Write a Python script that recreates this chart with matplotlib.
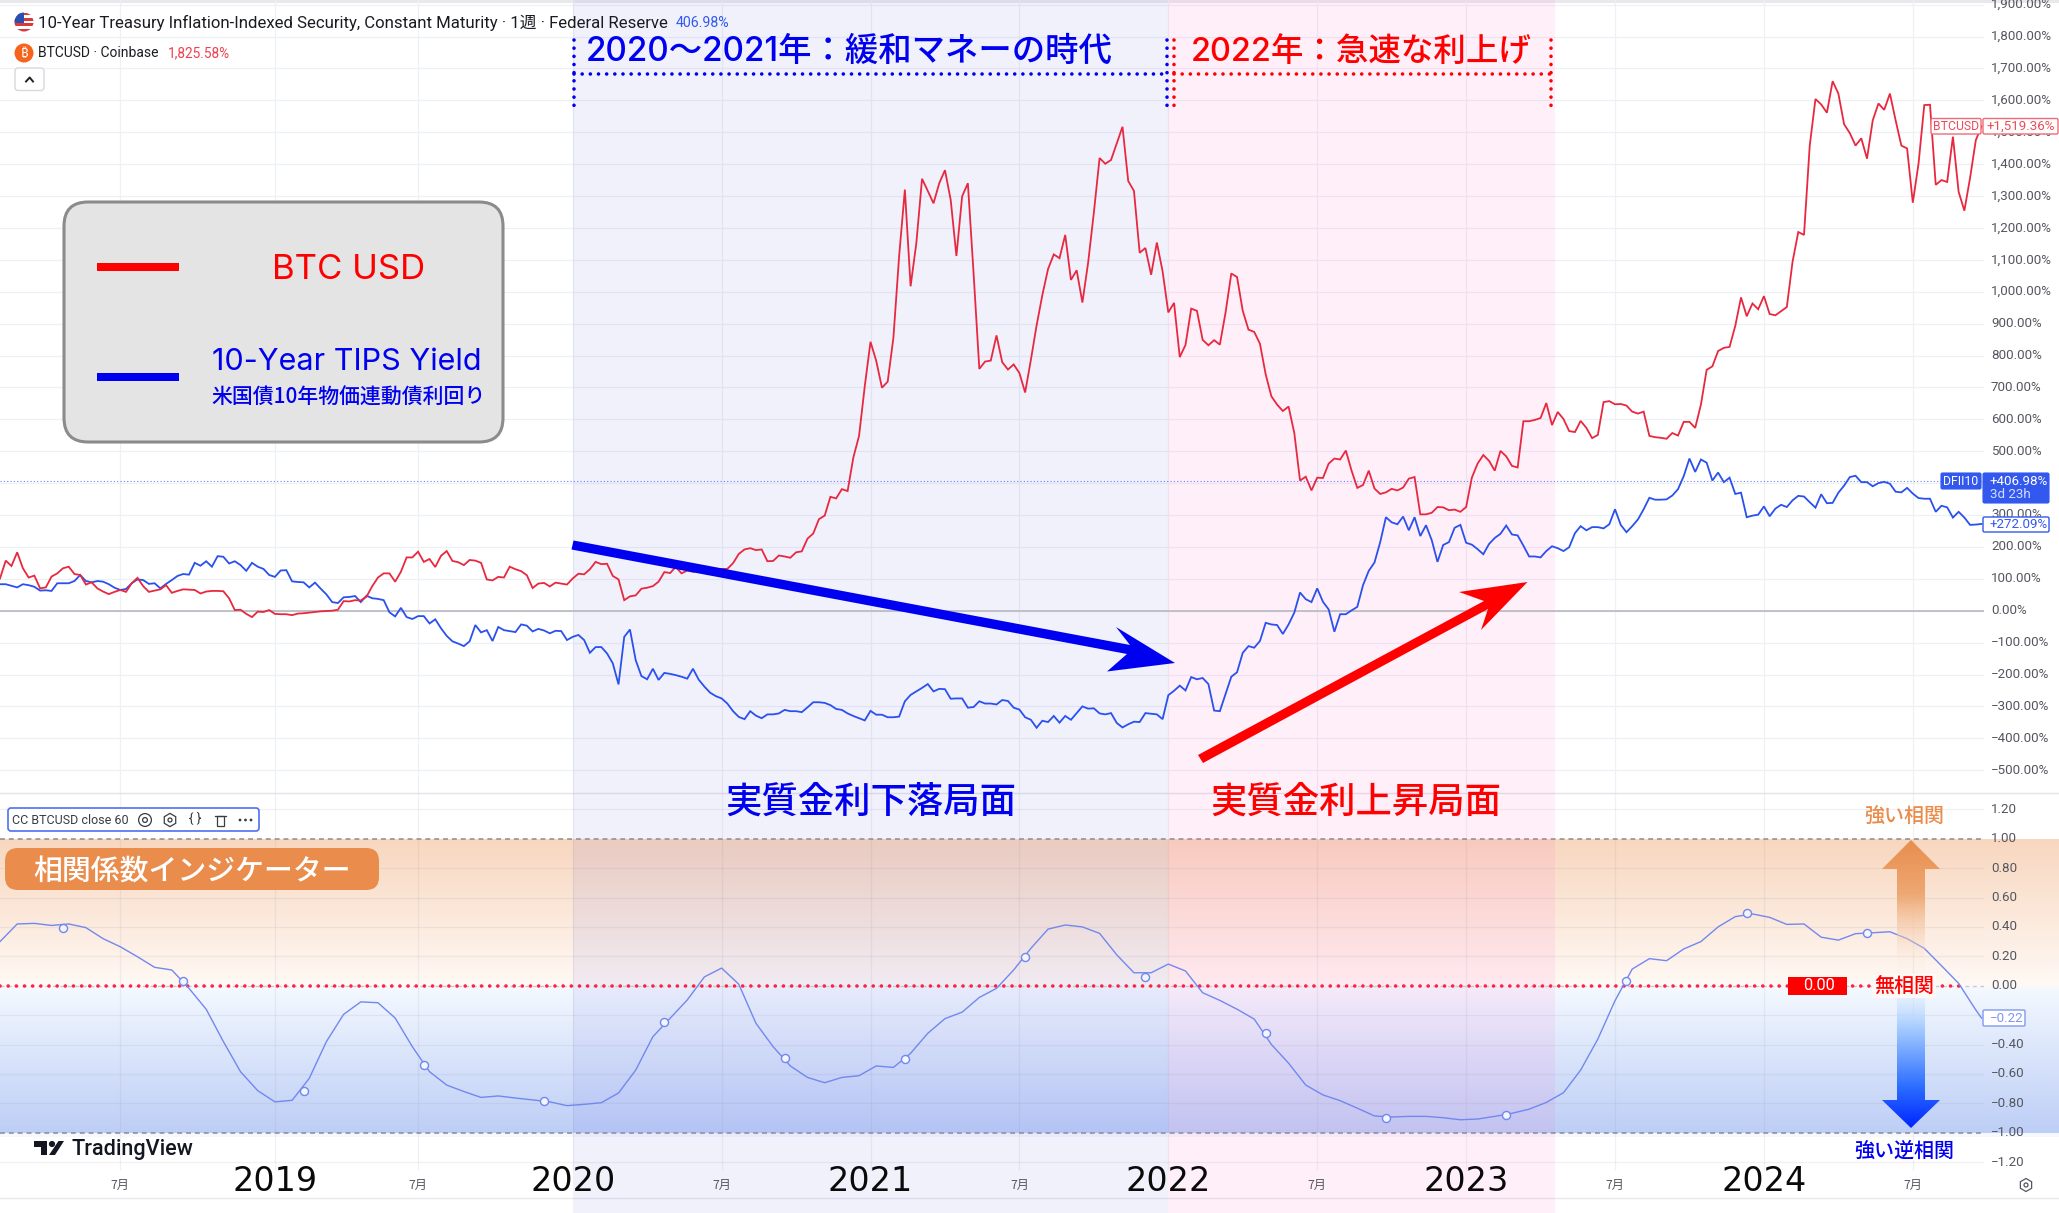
import numpy as np
import pandas as pd
import matplotlib
matplotlib.use("Agg")
import matplotlib.pyplot as plt
from matplotlib.patches import Circle, FancyBboxPatch, Polygon, Rectangle, RegularPolygon

plt.rcParams["ytick.alignment"] = "center"

# Weekly performance since the start of the window, percent
btc_pct = [
    101, 157, 140, 183, 133, 104, 110, 70, 73, 107,
    117, 133, 138, 115, 112, 82, 89, 70, 60, 52,
    59, 65, 59, 86, 103, 77, 59, 63, 67, 80,
    56, 62, 67, 66, 65, 54, 60, 62, 62, 61,
    39, 2, 3, -10, -20, -3, -4, 2, -10, -11,
    -11, -14, -9, -8, -6, -4, -2, -1, 0, 3,
    30, 29, 33, 32, 44, 77, 104, 117, 117, 91,
    122, 167, 167, 185, 153, 162, 137, 172, 187, 156,
    152, 143, 159, 157, 150, 98, 95, 106, 104, 138,
    130, 124, 111, 71, 85, 87, 76, 88, 85, 82,
    101, 116, 114, 130, 153, 146, 147, 109, 98, 33,
    45, 48, 69, 72, 77, 91, 121, 118, 137, 117,
    126, 122, 125, 128, 130, 131, 131, 131, 149, 178,
    192, 196, 190, 192, 155, 156, 173, 170, 166, 183,
    186, 226, 242, 287, 298, 357, 352, 381, 375, 480,
    548, 704, 843, 783, 699, 718, 856, 1112, 1320, 1017,
    1152, 1354, 1316, 1277, 1340, 1381, 1288, 1112, 1299, 1340,
    1057, 758, 781, 784, 863, 779, 756, 772, 745, 684,
    786, 894, 989, 1071, 1117, 1105, 1178, 1037, 1067, 966,
    1091, 1248, 1419, 1401, 1413, 1465, 1517, 1347, 1316, 1122,
    1137, 1053, 1154, 1064, 935, 965, 795, 833, 947, 940,
    849, 832, 848, 834, 935, 1057, 1046, 940, 881, 874,
    837, 741, 672, 646, 626, 640, 557, 408, 420, 377,
    417, 416, 461, 477, 474, 502, 439, 385, 394, 439,
    383, 366, 371, 382, 377, 386, 414, 419, 302, 302,
    307, 325, 324, 315, 317, 310, 325, 417, 461, 488,
    470, 439, 501, 484, 454, 449, 594, 594, 598, 604,
    651, 582, 623, 601, 563, 560, 595, 573, 541, 551,
    654, 657, 647, 648, 643, 624, 618, 624, 548, 544,
    542, 539, 557, 549, 592, 592, 573, 646, 755, 766,
    814, 824, 827, 893, 982, 923, 963, 945, 986, 930,
    926, 939, 952, 1094, 1187, 1178, 1458, 1604, 1587, 1561,
    1660, 1621, 1525, 1497, 1458, 1481, 1417, 1537, 1590, 1570,
    1621, 1537, 1458, 1449, 1279, 1402, 1585, 1586, 1335, 1350,
    1344, 1486, 1313, 1254, 1357, 1475, 1519,
]
tips_pct = [
    83, 83, 78, 73, 83, 80, 75, 63, 64, 62,
    86, 86, 86, 93, 112, 93, 89, 93, 91, 83,
    72, 65, 68, 86, 98, 96, 84, 86, 70, 84,
    96, 109, 115, 113, 150, 141, 155, 138, 171, 169,
    148, 155, 143, 125, 150, 138, 131, 112, 106, 126,
    127, 92, 90, 89, 73, 88, 69, 51, 27, 24,
    42, 43, 46, 27, 47, 39, 37, 33, -5, -18,
    9, -20, -26, -17, -17, -40, -27, -55, -79, -96,
    -103, -111, -96, -45, -68, -61, -95, -51, -61, -64,
    -67, -43, -47, -65, -57, -62, -71, -63, -64, -92,
    -82, -76, -92, -132, -114, -114, -134, -165, -231, -82,
    -59, -155, -205, -215, -182, -217, -195, -198, -202, -207,
    -213, -182, -216, -238, -257, -268, -275, -291, -315, -333,
    -340, -315, -329, -337, -325, -325, -322, -311, -315, -315,
    -318, -303, -287, -287, -289, -296, -308, -311, -322, -330,
    -337, -344, -314, -326, -326, -334, -334, -332, -284, -264,
    -253, -242, -230, -253, -245, -246, -276, -275, -275, -304,
    -302, -284, -291, -291, -294, -280, -283, -304, -310, -334,
    -342, -367, -345, -349, -330, -351, -330, -342, -321, -300,
    -307, -306, -322, -325, -321, -352, -366, -356, -348, -349,
    -321, -323, -325, -340, -265, -251, -235, -250, -208, -215,
    -211, -230, -313, -315, -261, -207, -193, -132, -111, -116,
    -95, -38, -43, -45, -73, -43, -6, 57, 36, 27,
    70, 28, 4, -66, -11, -11, 1, 12, 80, 125,
    151, 215, 293, 277, 271, 295, 252, 293, 234, 268,
    221, 153, 206, 215, 260, 269, 213, 207, 193, 177,
    209, 228, 241, 267, 239, 236, 204, 170, 170, 167,
    187, 202, 196, 187, 199, 243, 265, 252, 262, 262,
    258, 271, 318, 269, 246, 265, 286, 318, 354, 348,
    348, 349, 361, 381, 422, 477, 435, 474, 464, 408,
    433, 403, 417, 366, 370, 293, 298, 301, 327, 296,
    320, 332, 325, 346, 360, 358, 340, 323, 365, 337,
    338, 370, 392, 419, 423, 403, 403, 390, 400, 404,
    398, 373, 371, 385, 367, 353, 351, 351, 310, 329,
    324, 292, 310, 292, 269, 270, 272,
]
# 60-period correlation, read every third week plus the final bar
correlation = [
    0.30, 0.42, 0.424, 0.41, 0.42, 0.395, 0.32, 0.265, 0.197, 0.125,
    0.107, -0.018, -0.16, -0.38, -0.585, -0.714, -0.79, -0.78, -0.63, -0.38,
    -0.195, -0.11, -0.116, -0.22, -0.415, -0.585, -0.676, -0.72, -0.76, -0.75,
    -0.764, -0.777, -0.79, -0.816, -0.807, -0.796, -0.73, -0.574, -0.347, -0.222,
    -0.097, 0.06, 0.12, 0.01, -0.256, -0.415, -0.546, -0.624, -0.66, -0.624,
    -0.612, -0.546, -0.556, -0.46, -0.324, -0.224, -0.18, -0.08, -0.018, 0.107,
    0.254, 0.385, 0.413, 0.40, 0.356, 0.21, 0.088, 0.088, 0.147, 0.10,
    -0.048, -0.10, -0.16, -0.227, -0.40, -0.527, -0.676, -0.743, -0.782, -0.833,
    -0.886, -0.893, -0.889, -0.889, -0.898, -0.912, -0.907, -0.889, -0.868, -0.84,
    -0.794, -0.728, -0.574, -0.363, -0.102, 0.113, 0.184, 0.17, 0.25, 0.30,
    0.40, 0.47, 0.488, 0.465, 0.417, 0.42, 0.33, 0.31, 0.354, 0.36,
    0.367, 0.32, 0.254, 0.136, 0.016, -0.165, -0.22,
]
# Open-circle markers on the correlation line, one every 21 weeks
marker_values = [0.395, 0.03, -0.714, -0.54, -0.785, -0.25, -0.494, -0.497,
                 0.195, 0.057, -0.324, -0.90, -0.877, 0.03, 0.497, 0.358]

price_ticks = list(range(-500, 2000, 100))
corr_ticks = [-1.2, -1.0, -0.8, -0.6, -0.4, -0.2, 0.0, 0.2, 0.4, 0.6, 0.8, 1.0, 1.2]
year_labels = ["2019", "2020", "2021", "2022", "2023", "2024"]
year_bars = [48, 100, 152, 204, 256, 308]
july_bars = [21, 73, 126, 178, 230, 282, 334]

JP = ["Noto Sans CJK JP", "DejaVu Sans"]
HEAD = ["Inter", "Noto Sans CJK JP", "DejaVu Sans"]
UI = ["Roboto", "Noto Sans CJK JP", "DejaVu Sans"]
BLUE_PURE, RED_PURE = "#0000f0", "#ff0000"
BTC_RED, TIPS_BLUE, CORR_BLUE = "#e8283f", "#2a50ee", "#7288ee"
ORANGE = "#ea8c4c"
GRID = "#eef0f5"

W, H = 2059, 1213
SPLIT = 793
AXIS_X = 1984

dates = pd.date_range("2018-01-29", periods=len(btc_pct), freq="7D")
x_left, x_right = dates[0], dates[0] + pd.Timedelta(days=2425)

fig = plt.figure(figsize=(W / 100, H / 100), dpi=100, facecolor="white")


def pane(top, bottom, right=AXIS_X):
    """Axes placed from pixel rows, measured from the top of the figure."""
    return fig.add_axes([0, (H - bottom) / H, right / W, (bottom - top) / H])


def hex_rgb(code):
    return np.array(matplotlib.colors.to_rgb(code))


def vertical_gradient(stops):
    """RGBA column from (position, colour, alpha) stops, position 0 at the top."""
    t = np.linspace(0, 1, 256)
    pos = [s[0] for s in stops]
    rgb = np.array([hex_rgb(s[1]) for s in stops])
    alpha = [s[2] for s in stops]
    col = np.stack([np.interp(t, pos, rgb[:, c]) for c in range(3)] + [np.interp(t, pos, alpha)], axis=1)
    return col[:, None, :]


# Background layer in pixel space holding the correlation colour bands
back = fig.add_axes([0, 0, 1, 1], zorder=0)
back.set_xlim(0, W)
back.set_ylim(H, 0)
back.axis("off")
back.imshow(vertical_gradient([(0, "#f8d7bf", 1), (1, "#fff9f5", 1)]),
            extent=(0, W, 987, 839), aspect="auto", interpolation="bilinear")
back.imshow(vertical_gradient([(0, "#f4f9ff", 1), (1, "#bdcef6", 1)]),
            extent=(0, W, 1133, 987), aspect="auto", interpolation="bilinear")
back.add_patch(Rectangle((0, 1133), W, 4, color="#f5f8ff", lw=0))
back.add_patch(Rectangle((0, 0), W, 2.5, color="#e9e9ec", lw=0))
back.plot([0, W], [792.5, 792.5], color="#e3e4ea", lw=1)
back.plot([0, W], [1198, 1198], color="#e8e8ec", lw=1)
back.set_xlim(0, W)
back.set_ylim(H, 0)

# Price pane
ax = pane(0, SPLIT)
ax.set_zorder(1)
ax.patch.set_visible(False)
ax.set_xlim(x_left, x_right)
ax.set_ylim((610.7 - SPLIT) / 0.319, 610.7 / 0.319)
ax.yaxis.tick_right()
ax.set_yticks(price_ticks)
ax.set_yticklabels([f"{v:,.2f}%".replace("-", "\u2212") for v in price_ticks],
                   family=UI, fontsize=9.6, color="#555760")
ax.tick_params(axis="y", length=0, pad=5)
ax.set_xticks([])
for side in ax.spines.values():
    side.set_visible(False)
for v in price_ticks:
    ax.axhline(v, color=GRID, lw=0.9, zorder=1)
for i in sorted(year_bars + july_bars):
    ax.axvline(dates[i], color=GRID, lw=0.9, zorder=1)
ax.axvspan(dates[100], dates[204], color=(60 / 255, 60 / 255, 220 / 255), alpha=0.07, lw=0, zorder=2)
ax.axvspan(dates[204], pd.Timestamp("2023-04-14"), color=(1, 60 / 255, 190 / 255), alpha=0.08, lw=0, zorder=2)
ax.axhline(0, color="#bcbcc4", lw=1.3, zorder=3)
ax.axhline(406.98, color=TIPS_BLUE, lw=0.8, ls=(0, (1, 2)), alpha=0.7, zorder=3)
ax.plot(dates, tips_pct, color=TIPS_BLUE, lw=1.3, zorder=4, solid_joinstyle="miter")
ax.plot(dates, btc_pct, color=BTC_RED, lw=1.3, zorder=5, solid_joinstyle="miter")

# Correlation pane
cx = pane(SPLIT, H)
cx.set_zorder(1)
cx.patch.set_visible(False)
cx.set_xlim(x_left, x_right)
cx.set_ylim((985.7 - H) / 147, (985.7 - SPLIT) / 147)
cx.yaxis.tick_right()
cx.set_yticks(corr_ticks)
cx.set_yticklabels([f"{v:.2f}".replace("-", "\u2212") for v in corr_ticks],
                   family=UI, fontsize=9.6, color="#555760")
cx.tick_params(axis="y", length=0, pad=5)
cx.set_xticks([])
for side in cx.spines.values():
    side.set_visible(False)
for v in corr_ticks:
    if abs(v) not in (0.0, 1.0):
        cx.axhline(v, color="#7a7f90", alpha=0.10, lw=0.9, zorder=1)
grid_bottom = (985.7 - 1170) / 147
for i in sorted(year_bars + july_bars):
    cx.vlines(dates[i], grid_bottom, cx.get_ylim()[1], color="#7a7f90", alpha=0.10, lw=0.9, zorder=1)
cx.axvspan(dates[100], dates[204], color=(60 / 255, 60 / 255, 220 / 255), alpha=0.07, lw=0, zorder=2)
cx.axvspan(dates[204], pd.Timestamp("2023-04-14"), color=(1, 60 / 255, 190 / 255), alpha=0.08, lw=0, zorder=2)
for level in (1.0, -1.0):
    cx.axhline(level, color="#8b8b90", lw=1.1, ls=(0, (3.2, 2.6)), zorder=3)
cx.axhline(0, color="#c8c8cc", lw=0.9, ls=(0, (3, 3)), zorder=3)
cx.plot([dates[0], dates[342]], [0, 0], color="#ff2046", lw=2.6, ls=(0, (0.01, 2.25)),
        dash_capstyle="round", zorder=3)
corr_dates = dates[list(range(0, len(dates) - 1, 3)) + [len(dates) - 1]]
cx.plot(corr_dates, correlation, color=CORR_BLUE, lw=1.0, zorder=4)
cx.plot(dates[[11 + 21 * n for n in range(len(marker_values))]], marker_values, ls="none",
        marker="o", ms=5.8, mfc="#f3f5ff", mec=CORR_BLUE, mew=1.0, zorder=5)
for i, label_text in zip(year_bars, year_labels):
    cx.text(dates[i], (985.7 - 1181.5) / 147, label_text, family=["DejaVu Sans"], fontsize=24, ha="center",
            va="center", color="#0a0a0a", zorder=6)
for i in july_bars:
    cx.text(dates[i], (985.7 - 1185.5) / 147, "7月", family=JP, fontsize=8.8, ha="center",
            va="center", color="#555760", zorder=6)

# Annotation layer in pixel space
top = fig.add_axes([0, 0, 1, 1], zorder=5)
top.patch.set_visible(False)
top.axis("off")
top.set_xlim(0, W)
top.set_ylim(H, 0)


def label(x, y, text, size, color, family=JP, ha="center", weight="normal", **kw):
    return top.text(x, y, text, fontsize=size, color=color, family=family, ha=ha, va="center",
                    fontweight=weight, **kw)


def dotted(xs, ys, color):
    top.plot(xs, ys, color=color, lw=2.6, ls=(0, (0.01, 2.25)), dash_capstyle="round")


def box(x0, y0, x1, y1, face, edge, lw=1.0, radius=1.5, z=7):
    top.add_patch(FancyBboxPatch((x0 + radius, y0 + radius), x1 - x0 - 2 * radius, y1 - y0 - 2 * radius,
                                 boxstyle=f"round,pad={radius},rounding_size={radius}",
                                 fc=face, ec=edge, lw=lw, zorder=z))


# Series titles
flag = Circle((24, 22), 9.5, transform=top.transData)
for n, colour in enumerate(["#d83a3a", "white", "#d83a3a", "white", "#d83a3a", "white", "#d83a3a"]):
    stripe = Rectangle((14, 12.5 + n * 2.72), 20, 2.72, color=colour, lw=0, zorder=6)
    top.add_patch(stripe)
    stripe.set_clip_path(flag)
canton = Rectangle((14, 12), 10, 10.5, color="#2a4fb0", lw=0, zorder=6.1)
top.add_patch(canton)
canton.set_clip_path(flag)
label(38, 23, "10-Year Treasury Inflation-Indexed Security, Constant Maturity · 1週 · Federal Reserve",
      12.1, "#1a1c22", family=UI, ha="left")
label(676, 23, "406.98%", 10.2, "#3158f0", family=UI, ha="left")
top.add_patch(Circle((24, 53), 9.5, color="#f7631b", lw=0, zorder=6))
label(24, 53, "₿", 9.5, "white", family=["Noto Sans", "Roboto", "Inter", "DejaVu Sans"], weight="bold", zorder=7)
label(38, 53, "BTCUSD · Coinbase", 10.0, "#1a1c22", family=UI, ha="left")
label(168, 53, "1,825.58%", 9.8, "#f0404e", family=UI, ha="left")
box(15, 68, 44, 90.5, "white", "#d8d9de", lw=1.0, radius=3)
top.plot([26, 29.7, 33], [81.5, 77.5, 81.5], color="#222", lw=1.4, zorder=8)

# Legend panel
box(64, 202, 503, 442, "#e4e4e4", "#8b8b8b", lw=2.2, radius=24, z=6)
top.add_patch(Rectangle((97, 263), 82, 8, color=RED_PURE, lw=0, zorder=7))
top.add_patch(Rectangle((97, 373), 82, 8, color=BLUE_PURE, lw=0, zorder=7))
label(349, 270, "BTC USD", 25, RED_PURE, family=HEAD, zorder=8)
label(347, 362, "10-Year TIPS Yield", 22, BLUE_PURE, family=HEAD, zorder=8)
label(349, 398, "米国債10年物価連動債利回り", 15, BLUE_PURE, zorder=8, weight="medium")

# Period brackets
dotted([574, 574], [40, 107], BLUE_PURE)
dotted([574, 1166.5], [74, 74], BLUE_PURE)
dotted([1166.5, 1166.5], [40, 107], BLUE_PURE)
dotted([1174, 1174], [40, 107], RED_PURE)
dotted([1174, 1551], [74, 74], RED_PURE)
dotted([1551, 1551], [40, 107], RED_PURE)
label(849, 52, "2020〜2021年：緩和マネーの時代", 24.0, BLUE_PURE, family=HEAD, weight="medium")
label(1361, 52, "2022年：急速な利上げ", 23.4, RED_PURE, family=HEAD, weight="medium")

# Phase arrows
top.add_patch(Polygon([(573.5, 540.5), (1130, 645), (1116, 627), (1175, 663), (1107, 671.5),
                       (1127, 654), (571.5, 549.5)], color=BLUE_PURE, lw=0, zorder=6))
top.add_patch(Polygon([(1198, 755), (1484, 601), (1459, 592), (1527.5, 582), (1481, 630),
                       (1488, 609), (1203, 763)], color=RED_PURE, lw=0, zorder=6))
label(871, 802, "実質金利下落局面", 26.2, BLUE_PURE, zorder=8, weight="medium")
label(1356, 802, "実質金利上昇局面", 26.2, RED_PURE, zorder=8, weight="medium")

# Correlation indicator heading and study chip
box(5, 848, 379, 890, ORANGE, ORANGE, lw=0, radius=13)
label(192, 872, "相関係数インジケーター", 20.8, "white", zorder=8, weight="medium")
box(8, 808, 259, 831, "white", "#4d70f2", lw=1.2, radius=3)
label(11.5, 820, "CC BTCUSD close 60", 9.0, "#3a3c44", family=UI, ha="left", zorder=8)
top.add_patch(Circle((145, 820), 6.4, fc="none", ec="#3a3c44", lw=0.9, zorder=8))
top.add_patch(Circle((145, 820), 2.4, fc="none", ec="#3a3c44", lw=0.9, zorder=8))
top.add_patch(RegularPolygon((170, 820), 6, radius=6.6, fc="none", ec="#3a3c44", lw=0.9, zorder=8))
top.add_patch(Circle((170, 820), 2, fc="none", ec="#3a3c44", lw=0.9, zorder=8))
label(195, 819, "{ }", 9.5, "#3a3c44", family=UI, zorder=8)
top.add_patch(Rectangle((216.5, 816), 7.5, 10, fc="none", ec="#3a3c44", lw=0.9, zorder=8))
top.plot([215, 225.5], [815.5, 815.5], color="#3a3c44", lw=0.9, zorder=8)
for dot_x in (240, 245.5, 251):
    top.add_patch(Circle((dot_x, 820), 1.4, color="#3a3c44", lw=0, zorder=8))

# Vertical correlation arrows, each filled by a fading colour column
up_shape = Polygon([(1911, 840), (1940, 869), (1925, 869), (1925, 975), (1897, 975), (1897, 869), (1882, 869)],
                   transform=top.transData)
up = top.imshow(vertical_gradient([(0, "#e98d4e", 1), (0.4, "#eea873", 1), (1, "#fff2e8", 0)]),
                extent=(1880, 1942, 975, 840), aspect="auto", interpolation="bilinear", zorder=6)
up.set_clip_path(up_shape)
down_shape = Polygon([(1897, 993), (1925, 993), (1925, 1100), (1940, 1100), (1911, 1128), (1882, 1100), (1897, 1100)],
                     transform=top.transData)
down = top.imshow(vertical_gradient([(0, "#cfe4ff", 0.2), (0.25, "#a8ceff", 1), (0.7, "#2b6dff", 1), (1, "#0025ff", 1)]),
                  extent=(1880, 1942, 1128, 993), aspect="auto", interpolation="bilinear", zorder=6)
down.set_clip_path(down_shape)
top.set_xlim(0, W)
top.set_ylim(H, 0)
label(1904, 817, "強い相関", 14.4, ORANGE, zorder=8, weight="medium")
label(1904, 1151, "強い逆相関", 14.4, BLUE_PURE, zorder=8, weight="medium")
label(1904, 986, "無相関", 14.4, RED_PURE, zorder=8, weight="medium",
      bbox=dict(fc="#fdf9f7", ec="none", pad=1.5))
top.add_patch(Rectangle((1788, 977), 59, 18, color=RED_PURE, lw=0, zorder=7))
label(1819, 986, "0.00", 11.8, "white", family=UI, zorder=8)

# Last-value tags on the price scale
box(1931, 118.5, 1981, 134, "white", "#f06a76", lw=1.0)
label(1956, 126.5, "BTCUSD", 8.8, "#ee4a58", family=UI, zorder=8)
box(1983, 118.5, 2058, 134, "white", "#f06a76", lw=1.0)
label(2020.5, 126.5, "+1,519.36%", 9.6, "#ee4a58", family=UI, zorder=8)
box(1941, 473, 1981, 489, "#3358ee", "#3358ee", lw=0.8)
label(1961, 481.5, "DFII10", 8.8, "white", family=UI, zorder=8)
box(1983, 473, 2049, 503, "#3358ee", "#3358ee", lw=0.8)
label(1990, 481.5, "+406.98%", 9.6, "white", family=UI, ha="left", zorder=8)
label(1990, 495, "3d 23h", 9.6, "#d5ddfc", family=UI, ha="left", zorder=8)
box(1983, 517, 2049, 532, "white", "#3358ee", lw=1.0)
label(1990, 524.5, "+272.09%", 9.6, "#3358ee", family=UI, ha="left", zorder=8)
box(1983, 1010, 2025, 1026, "white", "#8099f2", lw=1.0)
label(1990, 1018.5, "\u22120.22", 9.6, "#7f97ee", family=UI, ha="left", zorder=8)

# Brand mark and scale settings icon
top.add_patch(Polygon([(34, 1141), (47, 1141), (47, 1155), (41, 1155), (41, 1147), (34, 1147)],
                      color="#131722", lw=0, zorder=7))
top.add_patch(Circle((52, 1144), 3.1, color="#131722", lw=0, zorder=7))
top.add_patch(Polygon([(58.5, 1141), (64, 1141), (55, 1155), (49, 1155)], color="#131722", lw=0, zorder=7))
label(71, 1149.5, "TradingView", 15.6, "#131722", family=["Roboto"], ha="left", weight="medium", zorder=8)
top.add_patch(RegularPolygon((2026, 1185), 6, radius=6.5, fc="none", ec="#555760", lw=0.9, zorder=8))
top.add_patch(Circle((2026, 1185), 2, fc="none", ec="#555760", lw=0.9, zorder=8))

fig.savefig("out.png", dpi=100)
